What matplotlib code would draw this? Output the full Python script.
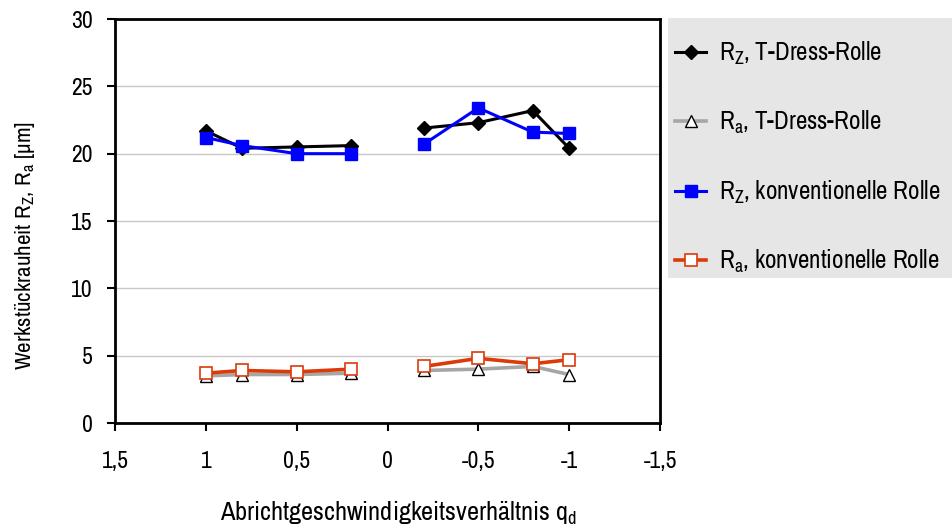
import numpy as np
import matplotlib
matplotlib.use("Agg")
import matplotlib.pyplot as plt
from matplotlib.patches import Rectangle

plt.rcParams["font.family"] = ["Liberation Sans Narrow", "Archivo Narrow", "DejaVu Sans"]
plt.rcParams["font.size"] = 15

# abscissa: q_d, gap between 0.2 and -0.2
qd = [1, 0.8, 0.5, 0.2, np.nan, -0.2, -0.5, -0.8, -1]

rz_tdress = [21.7, 20.4, 20.5, 20.6, np.nan, 21.9, 22.3, 23.2, 20.4]
ra_tdress = [3.5, 3.6, 3.6, 3.7, np.nan, 3.9, 4.0, 4.2, 3.6]
rz_konv = [21.2, 20.6, 20.0, 20.0, np.nan, 20.7, 23.4, 21.6, 21.5]
ra_konv = [3.7, 3.9, 3.8, 4.0, np.nan, 4.2, 4.8, 4.4, 4.7]

labels = [
    r"R$_\mathregular{Z}$, T-Dress-Rolle",
    r"R$_\mathregular{a}$, T-Dress-Rolle",
    r"R$_\mathregular{Z}$, konventionelle Rolle",
    r"R$_\mathregular{a}$, konventionelle Rolle",
]

fig = plt.figure(figsize=(9.52, 5.26), dpi=100)
ax = fig.add_axes([115 / 952, 1 - 423 / 526, 545 / 952, 404 / 526])

ax.plot(qd, rz_tdress, color="black", lw=2.2, marker="D", ms=7.5,
        label=labels[0], zorder=3)
ax.plot(qd, ra_tdress, color="#a6a6a6", lw=2.6, marker="^", ms=9,
        mfc="white", mec="black", mew=1, label=labels[1], zorder=3)
ax.plot(qd, rz_konv, color="#0000ff", lw=2.2, marker="s", ms=9,
        label=labels[2], zorder=4)
ax.plot(qd, ra_konv, color="#dd3a0a", lw=2.6, marker="s", ms=9,
        mfc="white", mec="#dd3a0a", mew=1.2, label=labels[3], zorder=4)

ax.set_xlim(1.5, -1.5)
ax.set_ylim(0, 30)
ax.set_xticks([1.5, 1, 0.5, 0, -0.5, -1, -1.5])
ax.set_xticklabels(["1,5", "1", "0,5", "0", "-0,5", "-1", "-1,5"])
ax.set_yticks(range(0, 31, 5))
ax.tick_params(direction="out", length=6, width=1.5, labelsize=17)
ax.tick_params(axis="x", pad=14)
ax.tick_params(axis="y", pad=10)
ax.grid(axis="y", color="#c8c8c8", lw=1)
ax.set_axisbelow(True)
for s in ax.spines.values():
    s.set_linewidth(2)

ax.set_xlabel(r"Abrichtgeschwindigkeitsverhältnis q$_\mathregular{d}$",
              fontsize=19, labelpad=18)
ax.xaxis.set_label_coords((399 - 115) / 545, -0.19)
ax.set_ylabel(r"Werkstückrauheit R$_\mathregular{Z}$, R$_\mathregular{a}$ [µm]",
              fontsize=16.5)
ax.yaxis.set_label_coords(-0.143, 0.44)

# grey legend panel
fig.patches.append(Rectangle((668 / 952, 1 - 278 / 526), 284 / 952, 260 / 526,
                             transform=fig.transFigure, facecolor="#e6e6e6",
                             edgecolor="none", zorder=0))

leg = fig.legend(loc="upper left", bbox_to_anchor=(675 / 952, 1 - 40 / 526),
                 frameon=False, handlelength=1.25, handletextpad=0.5,
                 labelspacing=1.68, borderpad=0, borderaxespad=0, fontsize=18)

fig.savefig("out.png", dpi=100)
